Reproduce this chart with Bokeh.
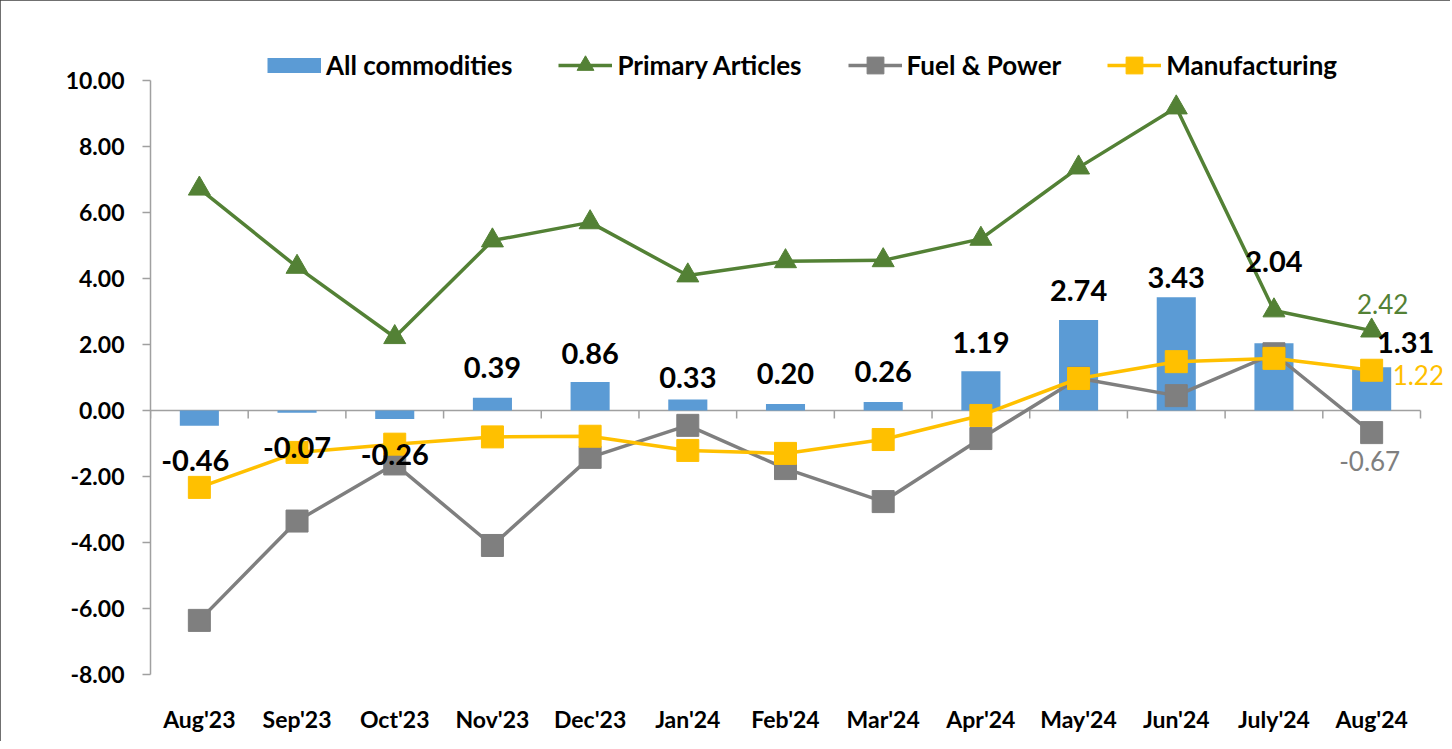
from bokeh.plotting import figure
from bokeh.models import (Range1d, FixedTicker, NumeralTickFormatter,
                          Legend, LegendItem, ColumnDataSource)
from bokeh.core.properties import value
from bokeh.embed import file_html
from bokeh.resources import INLINE

# ---- data ----
months = ["Aug'23", "Sep'23", "Oct'23", "Nov'23", "Dec'23", "Jan'24", "Feb'24",
          "Mar'24", "Apr'24", "May'24", "Jun'24", "July'24", "Aug'24"]
all_commodities = [-0.46, -0.07, -0.26, 0.39, 0.86, 0.33, 0.20, 0.26, 1.19, 2.74, 3.43, 2.04, 1.31]
primary_articles = [6.72, 4.35, 2.22, 5.15, 5.70, 4.09, 4.52, 4.55, 5.20, 7.36, 9.18, 3.03, 2.42]
fuel_power = [-6.36, -3.35, -1.62, -4.09, -1.42, -0.45, -1.76, -2.76, -0.85, 0.98, 0.45, 1.72, -0.67]
manufacturing = [-2.33, -1.27, -1.02, -0.80, -0.78, -1.21, -1.30, -0.88, -0.15, 0.97, 1.48, 1.58, 1.22]
y_ticks = [-8, -6, -4, -2, 0, 2, 4, 6, 8, 10]
y_min, y_max = -8, 10

# label placement (screen px)
bar_label_dy = [35, 35, 35, -30, -29, -22, -30, -30, -29, -30, -20, -82, -25]
bar_label_dx = [-4, 0, 0, 0, 0, 0, 0, 0, 0, 0, 0, 0, 34]

FONT = "Lato"
GREEN = "#538135"
GREY = "#7f7f7f"
YELLOW = "#ffc000"
BLUE = "#5b9bd5"
AXIS = "#a0a0a0"
LW = 3.5

# ---- layout (px) ----
W, H = 1450, 741
L, R, T, B = 150, 8, 30, 67
axis_top_px = 80            # where y=10 sits
cat_px = 1270 / len(months) # width of one category
px_per_unit = (H - B - axis_top_px) / (y_max - y_min)
x_end = (W - L - R) / cat_px
y_end = y_max + (axis_top_px - T) / px_per_unit

xs = [i + 0.5 for i in range(len(months))]   # category centres on the x scale
bounds = list(range(len(months) + 1))        # category boundaries

p = figure(width=W, height=H, x_range=Range1d(0, x_end), y_range=Range1d(y_min, y_end),
           output_backend="svg", toolbar_location=None,
           min_border_left=L, min_border_right=R, min_border_top=T, min_border_bottom=B,
           styles={"outline": "2px solid #404040", "outline-offset": "-2px"})
p.outline_line_color = None
p.xgrid.grid_line_color = None
p.ygrid.grid_line_color = None

# y axis
p.yaxis.ticker = FixedTicker(ticks=y_ticks)
p.yaxis.bounds = (y_min, y_max)
p.yaxis.formatter = NumeralTickFormatter(format="0.00")
p.yaxis.axis_line_color = AXIS
p.yaxis.axis_line_width = 1.5
p.yaxis.major_tick_line_color = AXIS
p.yaxis.major_tick_line_width = 1.5
p.yaxis.major_tick_out = 8
p.yaxis.major_tick_in = 0
p.yaxis.minor_tick_line_color = None
p.yaxis.major_label_standoff = 18
p.yaxis.major_label_text_font = FONT
p.yaxis.major_label_text_font_style = "bold"
p.yaxis.major_label_text_font_size = "23px"
p.yaxis.major_label_text_color = "black"

# x axis (labels only, at the bottom)
p.xaxis.ticker = FixedTicker(ticks=xs)
p.xaxis.major_label_overrides = {x: m for x, m in zip(xs, months)}
p.xaxis.axis_line_color = None
p.xaxis.major_tick_line_color = None
p.xaxis.minor_tick_line_color = None
p.xaxis.major_label_standoff = 24
p.xaxis.major_label_text_font = FONT
p.xaxis.major_label_text_font_style = "bold"
p.xaxis.major_label_text_font_size = "23px"
p.xaxis.major_label_text_color = "black"

# zero axis line with category-boundary ticks
tick_len = 8 / px_per_unit
p.segment(x0=[0], x1=[len(months)], y0=[0], y1=[0], line_color=AXIS, line_width=1.5)
p.segment(x0=bounds, x1=bounds, y0=[0] * len(bounds), y1=[-tick_len] * len(bounds),
          line_color=AXIS, line_width=1.5)

# bars
bars = p.vbar(x=xs, top=all_commodities, width=0.4, fill_color=BLUE, line_color=None)

# lines
g_line = p.line(xs, primary_articles, line_color=GREEN, line_width=LW)
g_mark = p.scatter(xs, primary_articles, marker="triangle", size=22,
                   fill_color=GREEN, line_color=GREEN)
f_line = p.line(xs, fuel_power, line_color=GREY, line_width=LW)
f_mark = p.scatter(xs, fuel_power, marker="square", size=22,
                   fill_color=GREY, line_color=GREY)
m_line = p.line(xs, manufacturing, line_color=YELLOW, line_width=LW)
m_mark = p.scatter(xs, manufacturing, marker="square", size=22,
                   fill_color=YELLOW, line_color=YELLOW)

# bar labels
src = ColumnDataSource(dict(x=xs, y=all_commodities,
                            t=[f"{v:.2f}" for v in all_commodities],
                            dx=bar_label_dx, dy=bar_label_dy))
p.text(x="x", y="y", text="t", x_offset="dx", y_offset="dy", source=src,
       text_font=value(FONT), text_font_style="bold", text_font_size="29px",
       text_color="black", text_align="center", text_baseline="middle")

# series end labels (last month)
lx = xs[-1]
p.text(x=[lx], y=[primary_articles[-1]], text=[f"{primary_articles[-1]:.2f}"],
       x_offset=11, y_offset=-27, text_font=value(FONT), text_font_size="26px",
       text_color=GREEN, text_align="center", text_baseline="middle")
p.text(x=[lx], y=[manufacturing[-1]], text=[f"{manufacturing[-1]:.2f}"],
       x_offset=21, y_offset=5, text_font=value(FONT), text_font_size="26px",
       text_color=YELLOW, text_align="left", text_baseline="middle")
p.text(x=[lx], y=[fuel_power[-1]], text=[f"{fuel_power[-1]:.2f}"],
       x_offset=-2, y_offset=28, text_font=value(FONT), text_font_size="26px",
       text_color=GREY, text_align="center", text_baseline="middle")

# legend swatch for the bars (a thick line draws a 52x15 box)
nan = float("nan")
bar_swatch = p.line(x=[nan], y=[nan], line_color=BLUE, line_width=15)

legend_center_y = 65
glyph_h = 42
leg = Legend(items=[LegendItem(label="All commodities", renderers=[bar_swatch]),
                    LegendItem(label="Primary Articles", renderers=[g_line, g_mark]),
                    LegendItem(label="Fuel & Power", renderers=[f_line, f_mark]),
                    LegendItem(label="Manufacturing", renderers=[m_line, m_mark])],
             location=(267 - L, (H - B) - (legend_center_y + glyph_h / 2)),
             orientation="horizontal",
             glyph_width=54, glyph_height=glyph_h, label_standoff=5, spacing=46,
             padding=0, margin=0, border_line_color=None, background_fill_alpha=0,
             label_text_font=FONT, label_text_font_style="bold",
             label_text_font_size="26px", label_text_color="black")
p.add_layout(leg, "center")

open("out.html", "w").write(file_html(p, INLINE))
